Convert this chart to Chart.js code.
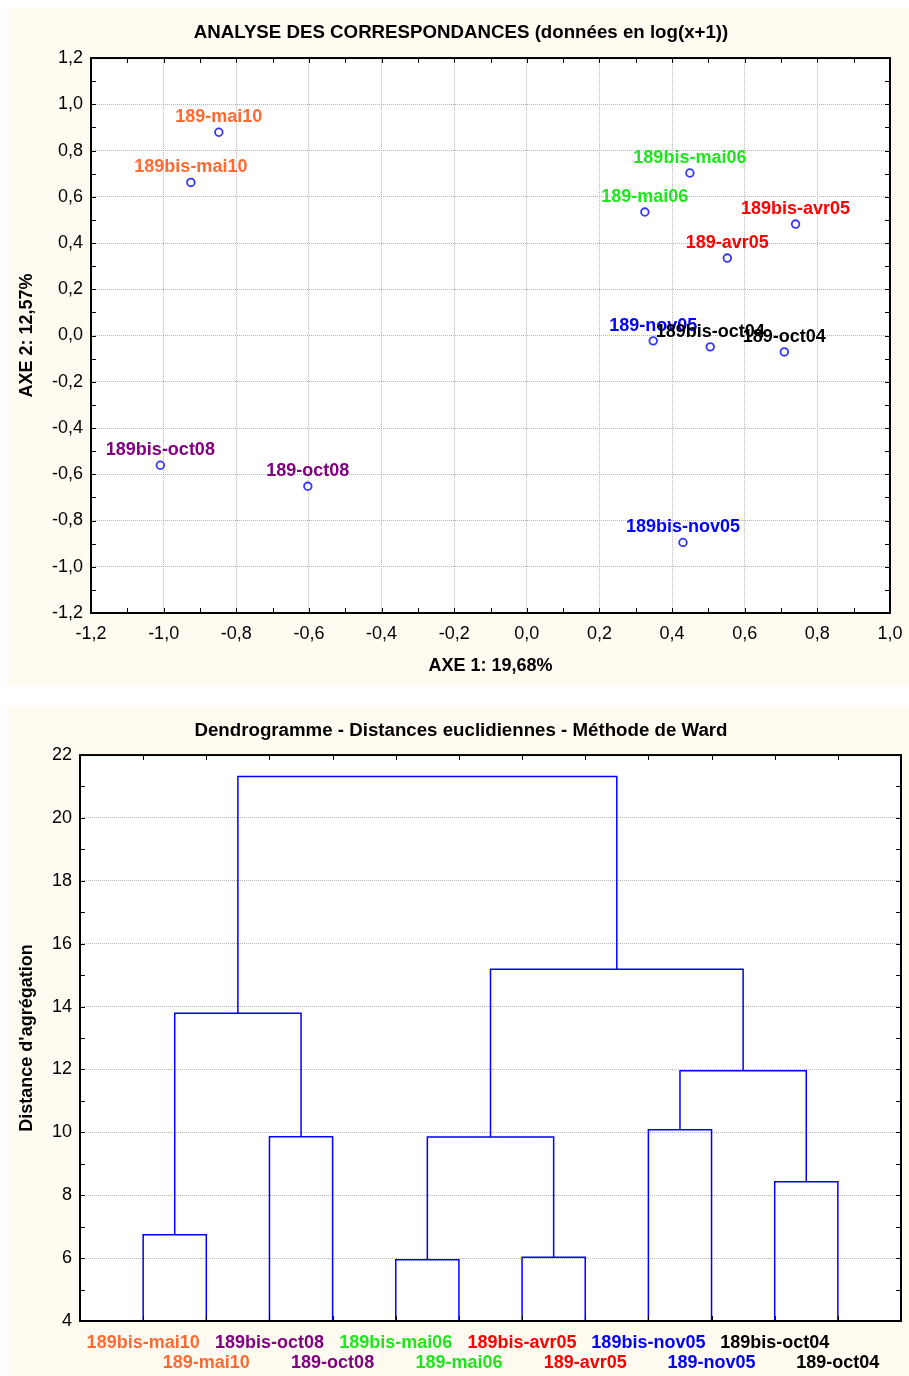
<!DOCTYPE html>
<html lang="fr">
<head>
  <meta charset="UTF-8" />
  <title>AFC et dendrogramme</title>
  <script src="https://cdn.jsdelivr.net/npm/chart.js"></script>
  <style>
    body { margin: 0; background: #ffffff; }
    .panneau { position: absolute; left: 7px; width: 902px; background: #fffbf0; }
    #p1 { top: 8px; height: 678px; }
    #p2 { top: 706px; height: 670px; }
    canvas { display: block; }
  </style>
</head>
<body>
  <div class="panneau" id="p1"><canvas id="afc" width="902" height="678"></canvas></div>
  <div class="panneau" id="p2"><canvas id="dendro" width="902" height="670"></canvas></div>

  <script>
    // --- AFC : coordonnées des prélèvements sur les axes 1 et 2
    const pointNames = ['189-mai10', '189bis-mai10', '189bis-mai06', '189-mai06', '189bis-avr05', '189-avr05',
                        '189-nov05', '189bis-oct04', '189-oct04', '189bis-oct08', '189-oct08', '189bis-nov05'];
    const axe1 = [-0.848, -0.925, 0.449, 0.325, 0.740, 0.552, 0.348, 0.505, 0.709, -1.009, -0.603, 0.430];
    const axe2 = [0.879, 0.662, 0.703, 0.534, 0.482, 0.335, -0.023, -0.049, -0.071, -0.561, -0.652, -0.895];
    const axe1Bornes = [-1.2, 1.0];
    const axe2Bornes = [-1.2, 1.2];

    // --- Dendrogramme (Ward) : ordre des feuilles et fusions
    const leafNames = ['189bis-mai10', '189-mai10', '189bis-oct08', '189-oct08', '189bis-mai06', '189-mai06',
                       '189bis-avr05', '189-avr05', '189bis-nov05', '189-nov05', '189bis-oct04', '189-oct04'];
    // noeuds 0..11 = feuilles, 12.. = groupes formés dans l'ordre
    const mergeA = [0, 2, 4, 6, 8, 10, 12, 14, 16, 19, 18];
    const mergeB = [1, 3, 5, 7, 9, 11, 13, 15, 17, 20, 21];
    const mergeHeight = [6.74, 9.86, 5.95, 6.03, 10.08, 8.43, 13.79, 9.85, 11.96, 15.19, 21.32];
    const distBornes = [4, 22];

    // couleur selon la date de prélèvement
    const couleurs = { mai10: '#ff6a33', oct08: '#800080', mai06: '#1ee61e', avr05: '#ff0000', nov05: '#0000ff', oct04: '#000000' };
    const couleurDe = nom => couleurs[nom.split('-')[1]];

    Chart.defaults.font.family = '"Liberation Sans", Arial, sans-serif';
    Chart.defaults.color = '#000000';

    const virgule = v => (Math.abs(v) < 1e-9 ? 0 : v).toFixed(1).replace('.', ',');

    function graduations(min, max, pas) {
      const res = [];
      const n = Math.round((max - min) / pas);
      for (let i = 0; i <= n; i++) res.push(min + i * pas);
      return res;
    }

    // fond blanc de la zone de tracé
    const fondBlanc = {
      id: 'fondBlanc',
      beforeDraw(chart) {
        const { ctx, chartArea: a } = chart;
        ctx.save();
        ctx.fillStyle = '#ffffff';
        ctx.fillRect(a.left, a.top, a.right - a.left, a.bottom - a.top);
        ctx.restore();
      }
    };

    // cadre noir + petites graduations vers l'intérieur
    function cadre(ticksX, ticksY) {
      return {
        id: 'cadre',
        afterDatasetsDraw(chart) {
          const { ctx, chartArea: a, scales } = chart;
          const L = 5;
          ctx.save();
          ctx.strokeStyle = '#000000';
          ctx.lineWidth = 1;
          ctx.beginPath();
          ticksX.forEach(v => {
            const px = Math.round(scales.x.getPixelForValue(v)) + 0.5;
            ctx.moveTo(px, a.top); ctx.lineTo(px, a.top + L);
            ctx.moveTo(px, a.bottom); ctx.lineTo(px, a.bottom - L);
          });
          ticksY.forEach(v => {
            const py = Math.round(scales.y.getPixelForValue(v)) + 0.5;
            ctx.moveTo(a.left, py); ctx.lineTo(a.left + L, py);
            ctx.moveTo(a.right, py); ctx.lineTo(a.right - L, py);
          });
          ctx.stroke();
          ctx.lineWidth = 2;
          ctx.strokeRect(a.left, a.top, a.right - a.left, a.bottom - a.top);
          ctx.restore();
        }
      };
    }

    const etiquettes = {
      id: 'etiquettes',
      afterDatasetsDraw(chart) {
        const ctx = chart.ctx;
        const meta = chart.getDatasetMeta(0);
        ctx.save();
        ctx.font = 'bold 18px "Liberation Sans", Arial, sans-serif';
        ctx.textAlign = 'center';
        ctx.textBaseline = 'alphabetic';
        meta.data.forEach((pt, i) => {
          ctx.fillStyle = couleurDe(pointNames[i]);
          ctx.fillText(pointNames[i], pt.x, pt.y - 10);
        });
        ctx.restore();
      }
    };

    const grille = { color: '#b4b4b4', lineWidth: 1, drawTicks: false };
    const titreAxe = { size: 18, weight: 'bold' };

    new Chart(document.getElementById('afc'), {
      type: 'scatter',
      data: {
        datasets: [{
          data: axe1.map((x, i) => ({ x: x, y: axe2[i] })),
          pointRadius: 3.8,
          pointHoverRadius: 3.8,
          pointBorderWidth: 1.8,
          pointBorderColor: '#3535ff',
          pointBackgroundColor: '#ffffff'
        }]
      },
      options: {
        responsive: false,
        animation: false,
        events: [],
        layout: { padding: { left: 6 } },
        plugins: {
          legend: { display: false },
          tooltip: { enabled: false },
          title: {
            display: true,
            text: 'ANALYSE DES CORRESPONDANCES (données en log(x+1))',
            font: { size: 18.7, weight: 'bold' },
            padding: { top: 13.6, bottom: 14 }
          }
        },
        scales: {
          x: {
            type: 'linear', min: axe1Bornes[0], max: axe1Bornes[1],
            ticks: { stepSize: 0.2, callback: virgule, padding: 10, maxRotation: 0, font: { size: 18 } },
            grid: grille,
            border: { display: false, dash: [1, 1] },
            title: { display: true, text: 'AXE 1: 19,68%', font: titreAxe, padding: { top: 0, bottom: 9 } },
            // marge droite fixe
            afterFit: s => { s.height = 73; s.paddingRight = 19; }
          },
          y: {
            type: 'linear', min: axe2Bornes[0], max: axe2Bornes[1],
            ticks: { stepSize: 0.2, callback: virgule, padding: 8, font: { size: 18 } },
            grid: grille,
            border: { display: false, dash: [1, 1] },
            title: { display: true, text: 'AXE 2: 12,57%', font: titreAxe, padding: { top: 3, bottom: 0 } },
            afterFit: s => { s.width = 78; }
          }
        }
      },
      plugins: [fondBlanc, cadre(graduations(axe1Bornes[0], axe1Bornes[1], 0.1), graduations(axe2Bornes[0], axe2Bornes[1], 0.1)), etiquettes]
    });

    // position de chaque noeud : feuilles en 1..12, groupes au milieu de leurs deux branches
    const noeudX = leafNames.map((n, i) => i + 1);
    const noeudH = leafNames.map(() => distBornes[0]);
    const branches = mergeA.map((a, k) => {
      const b = mergeB[k];
      const h = mergeHeight[k];
      noeudX.push((noeudX[a] + noeudX[b]) / 2);
      noeudH.push(h);
      return {
        data: [
          { x: noeudX[a], y: noeudH[a] }, { x: noeudX[a], y: h },
          { x: noeudX[b], y: h }, { x: noeudX[b], y: noeudH[b] }
        ],
        showLine: true,
        borderColor: '#0000ff',
        borderWidth: 1.5,
        pointRadius: 0,
        tension: 0
      };
    });

    new Chart(document.getElementById('dendro'), {
      type: 'scatter',
      data: { datasets: branches },
      options: {
        responsive: false,
        animation: false,
        events: [],
        layout: { padding: { left: 6 } },
        plugins: {
          legend: { display: false },
          tooltip: { enabled: false },
          title: {
            display: true,
            text: 'Dendrogramme - Distances euclidiennes - Méthode de Ward',
            font: { size: 18.7, weight: 'bold' },
            padding: { top: 13.6, bottom: 13 }
          }
        },
        scales: {
          x: {
            type: 'linear', min: 0, max: leafNames.length + 1,
            ticks: {
              stepSize: 1, autoSkip: false, maxRotation: 0, minRotation: 0, padding: 12,
              font: { size: 18, weight: 'bold', lineHeight: '20px' },
              color: c => {
                const i = c.tick ? c.tick.value - 1 : -1;
                return i >= 0 && i < leafNames.length ? couleurDe(leafNames[i]) : '#000000';
              },
              callback: v => {
                const i = v - 1;
                if (i < 0 || i >= leafNames.length) return '';
                return i % 2 === 0 ? leafNames[i] : ['', leafNames[i]];
              }
            },
            grid: { display: false, drawTicks: false },
            border: { display: false },
            afterFit: s => { s.height = 55; s.paddingRight = 8; }
          },
          y: {
            type: 'linear', min: distBornes[0], max: distBornes[1],
            ticks: { stepSize: 2, padding: 8, font: { size: 18 } },
            grid: grille,
            border: { display: false, dash: [1, 1] },
            title: { display: true, text: "Distance d'agrégation", font: titreAxe, padding: { top: 3, bottom: 0 } },
            afterFit: s => { s.width = 67; }
          }
        }
      },
      plugins: [fondBlanc, cadre(noeudX.slice(0, leafNames.length), graduations(distBornes[0], distBornes[1], 1))]
    });
  </script>
</body>
</html>
